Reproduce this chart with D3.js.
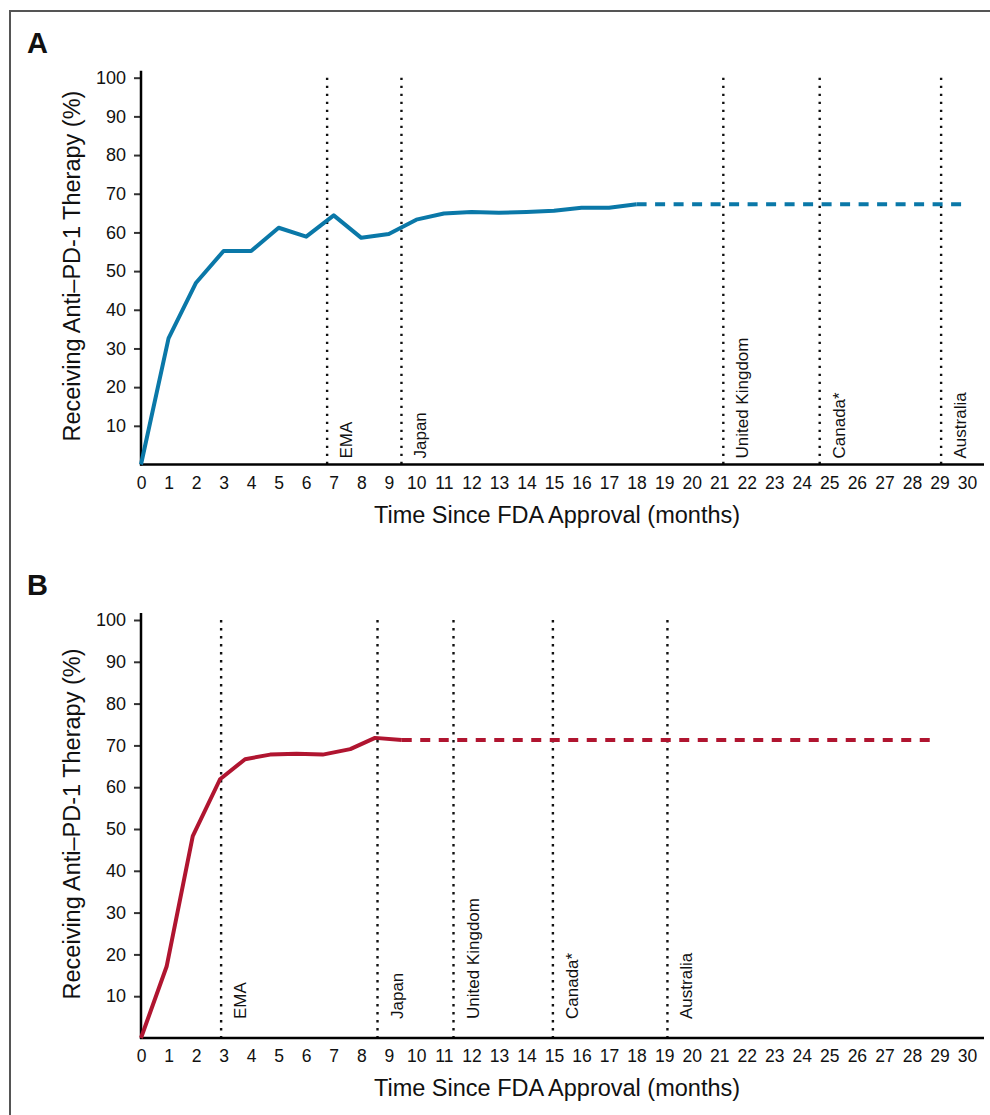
<!DOCTYPE html>
<html>
<head>
<meta charset="utf-8">
<script src="https://cdn.jsdelivr.net/npm/d3@7/dist/d3.min.js"></script>
<style>
  body { margin: 0; background: #fff; }
  svg text { font-family: "Liberation Sans", Arial, Helvetica, sans-serif; fill: #111; }
</style>
</head>
<body>
<div id="chart"></div>
<script>
// ---- data ----
var xTicks = d3.range(0, 31);
var yTicks = [10, 20, 30, 40, 50, 60, 70, 80, 90, 100];

// Panel A (blue)
var monthsA = [0, 1, 2, 3, 4, 5, 6, 7, 8, 9, 10, 11, 12, 13, 14, 15, 16, 17, 18];
var valuesA = [0, 32.6, 47.0, 55.2, 55.2, 61.2, 58.9, 64.4, 58.6, 59.6, 63.3, 64.9, 65.3, 65.1, 65.3, 65.6, 66.4, 66.4, 67.3];
var projMonthsA = [18, 29.86];
var projValuesA = [67.3, 67.3];
var eventNamesA = ["EMA", "Japan", "United Kingdom", "Canada*", "Australia"];
var eventMonthsA = [6.76, 9.46, 21.15, 24.65, 29.06];

// Panel B (red)
var monthsB = [0, 0.93, 1.88, 2.87, 3.78, 4.69, 5.65, 6.6, 7.6, 8.5, 9.47];
var valuesB = [0, 17.1, 48.3, 61.9, 66.7, 67.8, 68.0, 67.8, 69.1, 71.8, 71.3];
var projMonthsB = [9.47, 28.84];
var projValuesB = [71.3, 71.3];
var eventNamesB = ["EMA", "Japan", "United Kingdom", "Canada*", "Australia"];
var eventMonthsB = [2.91, 8.59, 11.35, 14.96, 19.12];

var W = 990, H = 1115;

var svg = d3.select("#chart")
  .append("svg")
    .attr("width", W)
    .attr("height", H);

// outer frame (top and left edges visible)
svg.append("path")
  .attr("d", "M10,1115 L10,11 L990,11")
  .attr("fill", "none")
  .attr("stroke", "#555")
  .attr("stroke-width", 2);

function drawPanel(p) {
  var x = d3.scaleLinear().domain([0, 30]).range([141, 967]);
  var y = d3.scaleLinear().domain([0, 100]).range([p.yBottom, p.yTop]);

  var g = svg.append("g");

  // panel letter
  g.append("text")
    .attr("x", 27)
    .attr("y", p.yTop - 25)
    .style("font-size", "29px")
    .style("font-weight", "bold")
    .text(p.letter);

  // dotted regulatory approval lines
  p.eventMonths.forEach(function(m, i) {
    g.append("line")
      .attr("x1", x(m)).attr("x2", x(m))
      .attr("y1", y(100)).attr("y2", y(0))
      .attr("stroke", "#111")
      .attr("stroke-width", 2.4)
      .attr("stroke-dasharray", "2.4,5.6");
    g.append("text")
      .attr("transform", `translate(${x(m) + 25},${y(0) - p.labelLift}) rotate(-90)`)
      .style("text-anchor", "start")
      .style("font-size", "17px")
      .text(p.eventNames[i]);
  });

  // y axis
  var yAxis = g.append("g")
    .attr("transform", "translate(141,0)")
    .call(d3.axisLeft(y).tickValues(yTicks).tickSize(7).tickPadding(8));
  yAxis.select(".domain").remove();
  yAxis.selectAll(".tick line").attr("stroke", "#333").attr("stroke-width", 2);
  yAxis.selectAll(".tick text")
    .style("font-size", "18px")
    .style("font-family", "'Liberation Sans', Arial, sans-serif")
    .attr("fill", "#111");

  // x axis
  var xAxis = g.append("g")
    .attr("transform", `translate(0,${y(0)})`)
    .call(d3.axisBottom(x).tickValues(xTicks).tickSize(0).tickPadding(12));
  xAxis.select(".domain").remove();
  xAxis.selectAll(".tick text")
    .style("font-size", "17.5px")
    .style("font-family", "'Liberation Sans', Arial, sans-serif")
    .attr("fill", "#111");

  // axis lines
  g.append("line")
    .attr("x1", 141).attr("x2", 141)
    .attr("y1", y(100) - 7).attr("y2", y(0) + 1)
    .attr("stroke", "#000").attr("stroke-width", 2.5);
  g.append("line")
    .attr("x1", 140).attr("x2", 984)
    .attr("y1", y(0)).attr("y2", y(0))
    .attr("stroke", "#000").attr("stroke-width", 2.5);

  // axis titles
  g.append("text")
    .attr("transform", `translate(80,${(y(0) + y(100)) / 2 - 5}) rotate(-90)`)
    .style("text-anchor", "middle")
    .style("font-size", "23.5px")
    .text("Receiving Anti\u2013PD-1 Therapy (%)");

  g.append("text")
    .attr("x", 557)
    .attr("y", y(0) + 58)
    .style("text-anchor", "middle")
    .style("font-size", "23.5px")
    .text("Time Since FDA Approval (months)");

  var line = d3.line()
    .x(function(d) { return x(d[0]); })
    .y(function(d) { return y(d[1]); });

  // projected (dashed) part
  g.append("path")
    .datum(d3.zip(p.projMonths, p.projValues))
    .attr("fill", "none")
    .attr("stroke", p.color)
    .attr("stroke-width", 4)
    .attr("stroke-dasharray", "10,8.5")
    .attr("d", line);

  // observed (solid) part
  g.append("path")
    .datum(d3.zip(p.months, p.values))
    .attr("fill", "none")
    .attr("stroke", p.color)
    .attr("stroke-width", 4)
    .attr("stroke-linejoin", "round")
    .attr("d", line);
}

drawPanel({
  letter: "A", yTop: 77.7, yBottom: 464.5, color: "#0a78a8", labelLift: 6,
  months: monthsA, values: valuesA, projMonths: projMonthsA, projValues: projValuesA,
  eventNames: eventNamesA, eventMonths: eventMonthsA
});

drawPanel({
  letter: "B", yTop: 620, yBottom: 1038, color: "#b01530", labelLift: 19,
  months: monthsB, values: valuesB, projMonths: projMonthsB, projValues: projValuesB,
  eventNames: eventNamesB, eventMonths: eventMonthsB
});
</script>
</body>
</html>
